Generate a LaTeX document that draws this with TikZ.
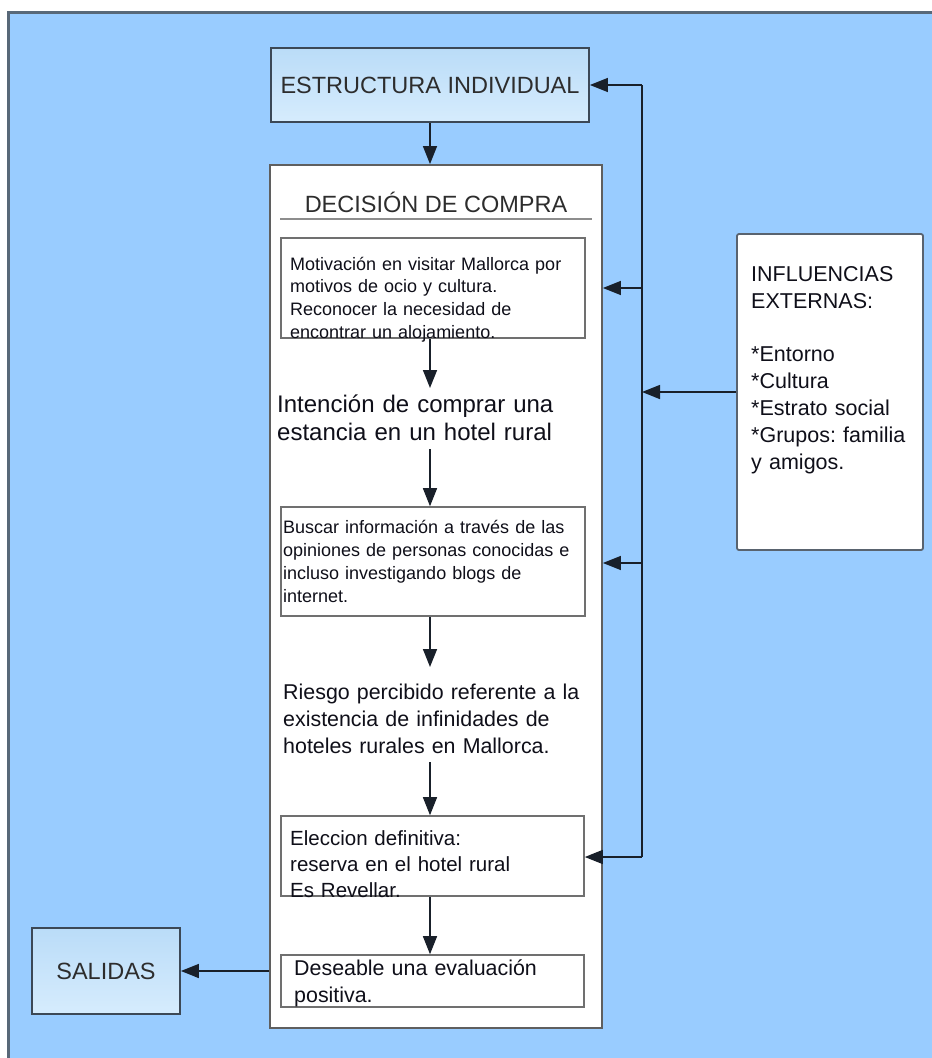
\documentclass[tikz,border=0pt]{standalone}
\usepackage{fontspec}
\setmainfont{Liberation Sans}
\usetikzlibrary{arrows.meta,calc}
\definecolor{bgblue}{RGB}{153,204,255}
\definecolor{frameline}{RGB}{88,104,120}
\definecolor{boxline}{RGB}{60,72,86}
\definecolor{inline}{RGB}{112,112,112}
\definecolor{esTop}{RGB}{186,220,248}
\definecolor{esBot}{RGB}{214,236,253}
\definecolor{conn}{RGB}{25,32,42}
\definecolor{ink}{RGB}{15,15,25}
\definecolor{titlegray}{RGB}{45,45,45}
\newcommand\fsz[2]{\fontsize{#1}{#2}\selectfont}
\frenchspacing
\tikzset{
  bluebox/.style={draw=boxline, line width=1.8pt, top color=esTop, bottom color=esBot, inner sep=0pt, text=titlegray},
  bigbox/.style={draw=inline!85!black, line width=1.8pt, fill=white, inner sep=0pt},
  stepbox/.style={draw=inline, line width=1.6pt, fill=white, inner sep=0pt},
  infbox/.style={draw=boxline!85, line width=1.8pt, fill=white, rounded corners=2pt, inner sep=0pt},
  txt/.style={anchor=base west, inner sep=0pt, text width=330pt, align=left, text=ink},
  arr/.style={draw=conn, line width=1.5pt, -{Triangle[length=18pt,width=14pt]}},
  conline/.style={draw=conn, line width=1.5pt}
}
\begin{document}
\begin{tikzpicture}[x=1pt,y=-1pt]
\useasboundingbox (0,0) rectangle (932,1058);
\fill[white] (0,0) rectangle (932,1058);
\fill[bgblue] (8.5,12.5) rectangle (932,1058);
\draw[frameline, line width=2.5pt] (8.5,1058) -- (8.5,12.5) -- (932,12.5);

% boxes
\node[bluebox, minimum width=318pt, minimum height=74pt, font=\fsz{23.5}{28}] (es) at (430,85) {ESTRUCTURA INDIVIDUAL};
\node[bigbox, minimum width=332pt, minimum height=863pt] (dec) at (436,596.5) {};
\node[anchor=base, inner sep=0pt, text=titlegray, font=\fsz{23.5}{28}] (title) at (436,212) {DECISIÓN DE COMPRA};
\coordinate (rl) at (280,219);
\coordinate (rr) at (592,219);
\draw[inline!80, line width=2pt] (rl) -- (rr);

\node[stepbox, minimum width=304pt, minimum height=100pt] (b1) at (433,288) {};
\node[txt, font=\fsz{18}{22.7}] (t1) at (290,270) {Motivación en visitar Mallorca por\\motivos de ocio y cultura.\\Reconocer la necesidad de\\encontrar un alojamiento.};

\node[txt, font=\fsz{24}{28}] (t2) at (277,412) {Intención de comprar una\\estancia en un hotel rural};

\node[stepbox, minimum width=304pt, minimum height=109pt] (b3) at (433,561.5) {};
\node[txt, font=\fsz{18}{23.3}] (t3) at (283,533) {Buscar información a través de las\\opiniones de personas conocidas e\\incluso investigando blogs de\\internet.};

\node[txt, font=\fsz{21.4}{27}] (t4) at (283,699) {Riesgo percibido referente a la\\existencia de infinidades de\\hoteles rurales en Mallorca.};

\node[stepbox, minimum width=303pt, minimum height=80pt] (b5) at (432.5,856) {};
\node[txt, font=\fsz{20.5}{26}] (t5) at (290,845) {Eleccion definitiva:\\reserva en el hotel rural\\Es Revellar.};

\node[stepbox, minimum width=303pt, minimum height=52pt] (b6) at (432.5,981) {};
\node[txt, font=\fsz{21.4}{27}] (t6) at (294,975) {Deseable una evaluación\\positiva.};

\node[bluebox, minimum width=148pt, minimum height=86pt, font=\fsz{23.5}{28}] (sal) at (106,971) {SALIDAS};

\node[infbox, minimum width=186pt, minimum height=316pt] (inf) at (830,392) {};
\node[txt, font=\fsz{21.5}{26.8}, text width=170pt] (ti) at (751,281.5) {INFLUENCIAS\\EXTERNAS:\\[26.8pt]{}*Entorno\\{}*Cultura\\{}*Estrato social\\{}*Grupos: familia\\y amigos.};

% connector coordinates
\coordinate (ax) at (430,0);
\coordinate (vtop) at (642,85);
\coordinate (v1) at (642,288);
\coordinate (vi) at (642,392);
\coordinate (v2) at (642,563);
\coordinate (vbot) at (642,857);
\coordinate (a2e) at (430,388);
\coordinate (a3s) at (430,449);
\coordinate (a4e) at (430,667);
\coordinate (a5s) at (430,762);

% downward arrows
\draw[arr] (es.south -| ax) -- (dec.north -| ax);
\draw[arr] (b1.south -| ax) -- (a2e);
\draw[arr] (a3s) -- (b3.north -| ax);
\draw[arr] (b3.south -| ax) -- (a4e);
\draw[arr] (a5s) -- (b5.north -| ax);
\draw[arr] (b5.south -| ax) -- (b6.north -| ax);

% feedback line
\draw[conline] (vtop) -- (vbot);
\draw[arr] (vtop) -- (es.east);
\draw[arr] (v1) -- (v1 -| dec.east);
\draw[arr] (v2) -- (v2 -| dec.east);
\draw[arr] (vbot) -- (vbot -| b5.east);
\draw[arr] (vi -| inf.west) -- (vi);

% output
\draw[arr] (dec.west |- sal.east) -- (sal.east);
\end{tikzpicture}
\end{document}
